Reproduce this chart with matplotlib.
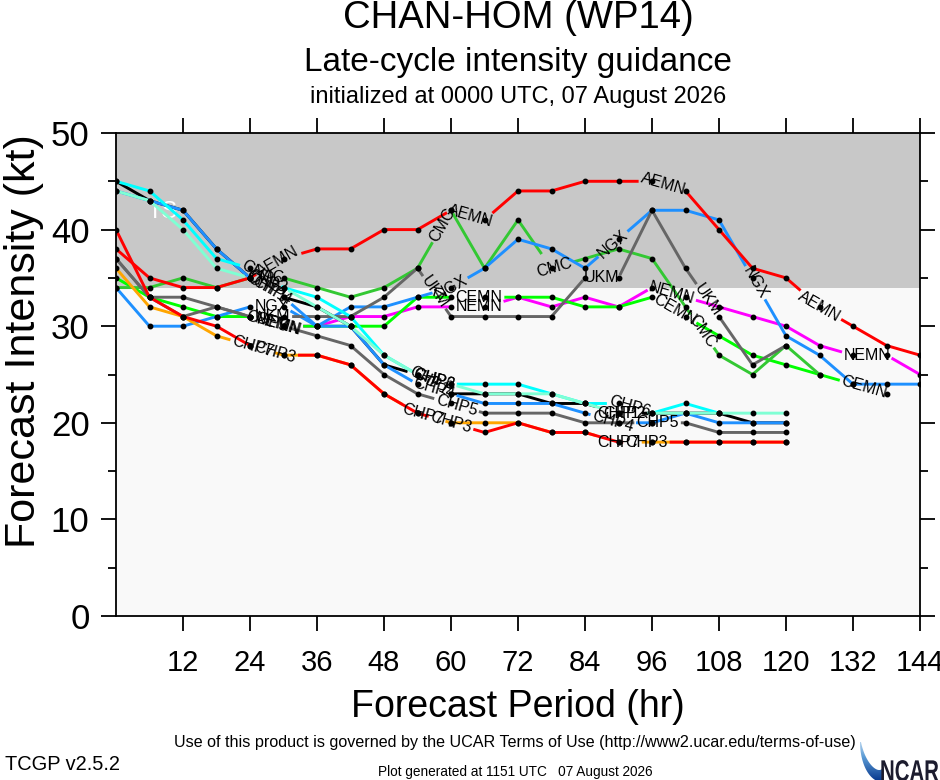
import numpy as np
import matplotlib
matplotlib.use("Agg")
import matplotlib.pyplot as plt
from matplotlib.patches import Polygon, PathPatch
from matplotlib.colors import LinearSegmentedColormap
from matplotlib.textpath import TextPath
from matplotlib.font_manager import FontProperties
from matplotlib.transforms import Affine2D

plt.rcParams['font.family'] = ['Liberation Sans', 'DejaVu Sans']

nan = np.nan
hours = np.arange(0, 145, 6)

# forecast intensities (kt), one value every 6 h from hour 0
aemn = [38, 35, 34, 34, 35, 37, 38, 38, 40, 40, 42, 41, 44, 44, 45, 45, 45, 44, 40, 36, 35, 32, 30, 28, 27]
cmc = [34, 34, 35, 34, 35, 35, 34, 33, 34, 36, 42, 36, 41, 36, 37, 38, 37, 32, 27, 25, 28, 25]
ngx = [34, 30, 30, 31, 32, 32, 30, 32, 32, 33, 34, 36, 39, 38, 36, 39, 42, 42, 41, 35, 29, 27, 24, 24, 24]
ukm = [37, 33, 33, 32, 31, 31, 31, 31, 33, 36, 31, 31, 31, 31, 35, 35, 42, 36, 31, 26, 28]
nemn = [nan, nan, nan, nan, 31, 30, 30, 31, 31, 32, 32, 32, 33, 32, 33, 32, 34, 33, 32, 31, 30, 28, 27, 27, 25]
cemn = [35, 33, 32, 31, 31, 30, 30, 30, 30, 33, 33, 33, 33, 33, 32, 32, 33, 31, 29, 27, 26, 25, 24, 23]
chp1 = [45, 43, 42, 38, 35, 33, 32, 30, 26, 25, 23, 23, 23, 22, 22, 21, 21, 21, 21, 20, 20]
chp4 = [44, 43, 42, 38, 35, 33, 30, 30, 26, 24, 23, 22, 22, 22, 21, 20, 20, 21, 20, 20, 20]
chp6 = [45, 44, 41, 37, 36, 34, 33, 31, 27, 25, 24, 24, 24, 23, 22, 22, 21, 22, 21]
chp2 = [44, 43, 40, 36, 35, 34, 32, 30, 27, 25, 24, 23, 23, 23, 22, 21, 21, 21, 21, 21, 21]
chp5 = [37, 33, 31, 32, 31, 30, 29, 28, 25, 23, 22, 21, 21, 21, 20, 20, 20, 20, 19, 19, 19]
chp7 = [36, 32, 31, 29, 28, 27, 27, 26, 23, 21, 20, 20, 20, 19, 19, 18, 18, 18, 18, 18, 18]
chp3 = [40, 33, 31, 30, 28, 27, 27, 26, 23, 21, 20, 19, 20, 19, 19, 18, 18, 18, 18, 18, 18]

# name, values, colour, hours where the name is written on the line
series = [
    ("NEMN", nemn, "#ff00ff", [29, 65, 99.5, 134.5]),
    ("CEMN", cemn, "#00ff00", [29, 65, 100, 134]),
    ("CMC", cmc, "#33c833", [27, 58.5, 78.5, 105]),
    ("NGX", ngx, "#1e90ff", [28, 60, 89, 114.5]),
    ("UKM", ukm, "#666666", [28, 57, 87, 106]),
    ("AEMN", aemn, "#ff0000", [29, 63.5, 98, 126]),
    ("CHP1", chp1, "#000000", [27, 56, 90]),
    ("CHP4", chp4, "#1e90ff", [28, 57, 89]),
    ("CHP6", chp6, "#00ffff", [26, 57, 92]),
    ("CHP2", chp2, "#7fffd4", [27, 57, 91]),
    ("CHP5", chp5, "#666666", [27, 61, 97]),
    ("CHP7", chp7, "#ffa500", [24.5, 55, 90]),
    ("CHP3", chp3, "#ff0000", [28.5, 60, 95]),
]


def padded(vals):
    return np.array(list(vals) + [nan] * (len(hours) - len(vals)), dtype=float)


def cut_gaps(ax, x, y, centers, widths):
    # split the line so the labels sit in gaps, working in pixel space
    pts = ax.transData.transform(np.column_stack([x, y]))
    s = np.concatenate([[0], np.cumsum(np.hypot(*np.diff(pts, axis=0).T))])
    gaps = []
    for h, w in zip(centers, widths):
        sc = np.interp(h, x, s)
        gaps.append((sc - w / 2, sc + w / 2))
    edges = [g for gap in gaps for g in gap if 0 < g < s[-1]]
    ss = np.unique(np.concatenate([s, edges]))
    px = np.interp(ss, s, pts[:, 0])
    py = np.interp(ss, s, pts[:, 1])
    out_x, out_y = [], []
    prev_kept = False
    for i in range(len(ss) - 1):
        mid = 0.5 * (ss[i] + ss[i + 1])
        keep = not any(a <= mid <= b for a, b in gaps)
        if keep:
            if not prev_kept:
                if out_x:
                    out_x.append(nan)
                    out_y.append(nan)
                out_x.append(px[i])
                out_y.append(py[i])
            out_x.append(px[i + 1])
            out_y.append(py[i + 1])
        prev_kept = keep
    disp = np.column_stack([out_x, out_y])
    good = ~np.isnan(disp[:, 0])
    data = np.full_like(disp, nan)
    data[good] = ax.transData.inverted().transform(disp[good])
    return data[:, 0], data[:, 1]


fig = plt.figure(figsize=(9.4, 7.8), dpi=100)
ax = fig.add_axes([116 / 940, 1 - 616 / 780, 804 / 940, 483 / 780])
ax.set_xlim(0, 144)
ax.set_ylim(0, 50)
ax.set_facecolor("#f9f9f9")
ax.axhspan(34, 50, color="#c8c8c8", zorder=0, lw=0)
ax.text(8.4, 41.8, "TS", color="white", fontsize=17, ha="center", va="center", zorder=1)

ax.set_xticks(np.arange(12, 145, 12))
ax.set_yticks(np.arange(0, 51, 10))
ax.set_yticks(np.arange(5, 50, 10), minor=True)
ax.tick_params(which="both", direction="out", top=True, right=True, width=1.3)
ax.tick_params(which="major", length=11)
ax.tick_params(which="minor", length=6)
ax.tick_params(axis="x", labelsize=21, pad=13)
ax.tick_params(axis="y", labelsize=25, pad=8)
for sp in ax.spines.values():
    sp.set_linewidth(1.3)

renderer = fig.canvas.get_renderer()
for name, vals, color, label_hours in series:
    v = padded(vals)
    ok = ~np.isnan(v)
    x, y = hours[ok], v[ok]
    widths = []
    for h in label_hours:
        yl = np.interp(h, x, y)
        i = min(np.searchsorted(x, h, side="right") - 1, len(x) - 2)
        p0, p1 = ax.transData.transform([(x[i], y[i]), (x[i + 1], y[i + 1])])
        ang = np.degrees(np.arctan2(p1[1] - p0[1], p1[0] - p0[0]))
        t = ax.text(h, yl, name, fontsize=11.5, ha="center", va="center",
                    rotation_mode="anchor", zorder=5)
        widths.append(t.get_window_extent(renderer=renderer).width + 4)
        t.set_rotation(ang)
    gx, gy = cut_gaps(ax, x, y, label_hours, widths)
    ax.plot(gx, gy, color=color, lw=2.1, solid_capstyle="butt", zorder=2)

for name, vals, color, label_hours in series:
    v = padded(vals)
    ax.plot(hours, v, "o", color="black", ms=3.2, zorder=3, lw=0)

fig.text(518 / 940, 1 - 18 / 780, "CHAN-HOM (WP14)", ha="center", va="center", fontsize=27.5)
fig.text(518 / 940, 1 - 62 / 780, "Late-cycle intensity guidance", ha="center", va="center", fontsize=24)
fig.text(518 / 940, 1 - 97 / 780, "initialized at 0000 UTC, 07 August 2026",
         ha="center", va="center", fontsize=17)
fig.text(518 / 940, 1 - 707 / 780, "Forecast Period (hr)", ha="center", va="center", fontsize=27)
fig.text(24 / 940, 1 - 341 / 780, "Forecast Intensity (kt)", ha="center", va="center",
         rotation=90, fontsize=31)

fig.text(515 / 940, 1 - 743 / 780,
         "Use of this product is governed by the UCAR Terms of Use (http://www2.ucar.edu/terms-of-use)",
         ha="center", va="center", fontsize=11.6)
fig.text(5 / 940, 1 - 765 / 780, "TCGP v2.5.2", ha="left", va="center", fontsize=14.4)
fig.text(515 / 940, 1 - 772 / 780, "Plot generated at 1151 UTC   07 August 2026",
         ha="center", va="center", fontsize=9.8)

# NCAR logo
lax = fig.add_axes([848 / 940, 0, 92 / 940, 46 / 780])
lax.set_xlim(0, 92)
lax.set_ylim(0, 46)
lax.axis("off")
th = np.linspace(np.pi, 1.5 * np.pi, 40)
tt = np.linspace(0, 1, 40)
outer = np.column_stack([34 + 22 * np.cos(th), 38 + 40 * np.sin(th)])
wid = 1 + 12 * tt
inner = np.column_stack([34 + (22 - wid) * np.cos(th), 38 + (40 - wid) * np.sin(th)])
swoosh = Polygon(np.vstack([outer, inner[::-1]]), closed=True, fc="none", ec="none")
lax.add_patch(swoosh)
cmap = LinearSegmentedColormap.from_list("ncar", ["#e3f0fb", "#5b9bd5", "#0b3d91"])
im = lax.imshow(np.linspace(0, 1, 100).reshape(-1, 1), extent=[0, 92, 0, 46], cmap=cmap,
                aspect="auto", origin="upper")
im.set_clip_path(swoosh)
tp = TextPath((0, 0), "NCAR", size=30, prop=FontProperties(family="Liberation Sans", weight="bold"))
word = PathPatch(tp, fc="#1c1c2e", ec="none",
                 transform=Affine2D().scale(0.68, 1.0).translate(32, -1) + lax.transData)
lax.add_patch(word)

fig.savefig("out.png", dpi=100)
